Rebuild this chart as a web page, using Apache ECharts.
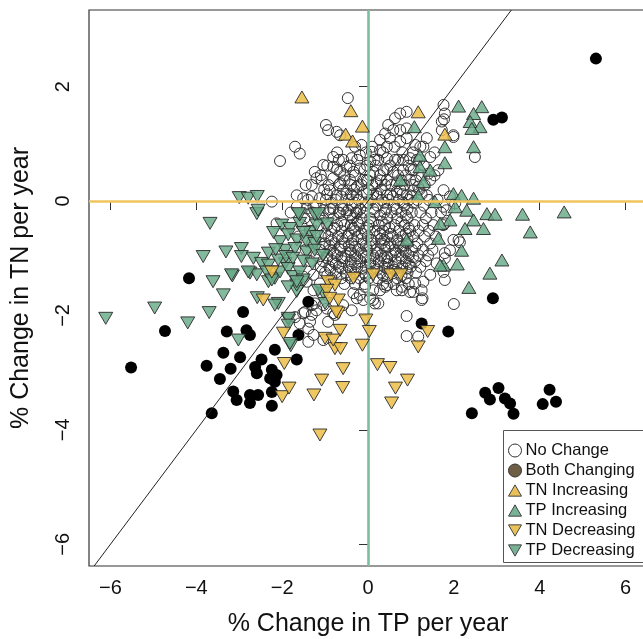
<!DOCTYPE html>
<html>
<head>
<meta charset="utf-8">
<script src="https://cdn.jsdelivr.net/npm/echarts@6/dist/echarts.min.js"></script>
<style>html,body{margin:0;padding:0;background:#fff;}#chart{width:643px;height:639px;}</style>
</head>
<body>
<div id="chart"></div>
<script>
const xTicks = [-6, -4, -2, 0, 2, 4, 6];
const yTicks = [-6, -4, -2, 0, 2];
const xTitle = '% Change in TP per year';
const yTitle = '% Change in TN per year';
const seriesNames = ['No Change', 'Both Changing', 'TN Increasing', 'TP Increasing', 'TN Decreasing', 'TP Decreasing'];

const noChange = [
[-0.47,1.80],[-0.98,1.33],[-0.93,1.24],[-0.73,1.21],[-0.65,1.15],[-1.70,0.95],[-1.59,0.83],[-2.05,0.70],[-0.15,0.98],[-0.81,0.77],[-0.58,0.72],[-0.38,0.75],[-0.19,0.80],[-1.04,0.63],[-1.24,0.51],[-1.20,0.40],[-1.31,0.28],[-1.08,0.37],[-0.81,0.60],[-0.65,0.51],[-0.50,0.60],[-0.34,0.51],[-0.19,0.57],[-0.81,0.40],[-0.65,0.31],[-0.42,0.37],[-0.26,0.25],[-0.11,0.37],[-0.89,0.19],[-0.73,0.10],[-0.50,0.13],[-0.26,0.10],[-0.11,0.16],[-2.24,-0.01],[-1.66,0.10],[-1.51,0.05],[-1.31,0.08],[-1.12,0.05],[-1.66,-0.10],[-1.43,-0.13],[-1.27,-0.10],[-1.04,-0.16],[-0.81,-0.13],[-0.65,-0.21],[-0.46,-0.16],[-0.26,-0.21],
[1.76,1.68],[1.79,1.53],[0.75,1.53],[0.63,1.45],[0.90,1.56],[0.47,1.33],[0.40,1.18],[0.59,1.24],[0.75,1.24],[0.90,1.27],[1.72,1.24],[1.99,1.15],[1.72,1.39],[2.49,0.77],[1.45,0.77],[1.29,0.95],[1.37,1.10],[0.09,0.86],[0.28,0.89],[0.44,0.95],[0.28,1.07],[0.51,1.10],[0.75,1.04],[0.90,1.10],[1.10,0.98],[0.05,0.69],[0.24,0.72],[0.44,0.75],[0.63,0.72],[0.82,0.72],[0.98,0.75],[1.14,0.72],[0.12,0.51],[0.36,0.54],[0.59,0.51],[0.82,0.54],[1.06,0.54],[1.41,0.48],[1.64,0.54],[-0.03,0.37],[0.20,0.31],[0.44,0.37],[0.67,0.31],[0.98,0.37],[1.17,0.25],[1.45,0.37],[-0.03,0.13],[0.20,0.13],[0.44,0.10],[0.67,0.16],[0.90,0.10],[1.06,0.19],[1.37,0.10],[1.76,0.19],[1.91,0.08],[1.76,-0.10],[2.03,-0.04],
[1.77,1.43],[1.99,1.12],[1.83,-0.16],[1.79,-0.39],[1.99,-0.68],[2.11,-0.68],[1.79,-0.91],[1.79,-1.38],[2.00,-1.80],
[2.14,-0.72],[1.91,-0.86],[1.79,-1.00],[1.60,-1.09],[1.76,-1.24],[1.45,-1.29],[1.29,-1.41],[1.10,-1.44],[0.79,-1.56],[1.25,-1.56],[1.06,-1.59],[1.25,-1.73],[0.12,-1.56],[0.44,-1.47],[0.28,-1.56],[0.05,-1.70],[0.16,-1.79],[0.90,-2.01],[0.90,-2.36],[1.17,-2.37],
[-1.35,-2.11],[-1.31,-1.99],[-1.47,-1.94],[-1.31,-1.82],[-0.93,-2.11],[-0.77,-1.99],[-1.39,-2.46],[-0.34,-1.61],[-0.19,-1.64],[-0.07,-1.50],[0.12,-1.73],[0.24,-1.79],[0.40,-1.50],[0.67,-1.56],[0.79,-1.50],[0.98,-1.59],[1.27,-1.70],
[-2.13,-0.39],[-1.51,-1.96],[-1.39,-2.23],[-1.27,-2.34],[-1.04,-2.43],[-1.70,-2.03],[-1.59,-2.14],
[-1.24,-1.79],[-1.04,-1.82],[-1.20,-1.91],[-0.96,-1.88],[-0.81,-1.96],[-0.58,-1.82],[-0.38,-1.91],[-0.26,-1.70],[-0.11,-1.73],
[-1.51,-1.32],[-1.43,-1.41],[-1.27,-1.29],[-1.12,-1.44],[-1.27,-1.56],[-1.08,-1.61],
[-0.30,0.95],[0.10,0.95],[0.62,0.95],[1.22,0.95],
[-0.72,0.85],[-0.05,0.85],[0.35,0.85],[0.80,0.85],[1.05,0.85],[1.55,0.85],
[-0.68,0.72],[-0.25,0.72],[0.15,0.72],[0.70,0.72],[1.20,0.72],
[-0.95,0.62],[-0.42,0.62],[-0.02,0.62],[0.18,0.62],[0.52,0.62],[0.95,0.62],[1.30,0.62],
[-0.72,0.55],[-0.08,0.55],[0.45,0.55],[1.00,0.55],
[-1.10,0.45],[-0.55,0.45],[-0.30,0.45],[0.05,0.45],[0.28,0.45],[0.70,0.45],[0.88,0.45],[1.25,0.45],[1.55,0.45],
[-0.55,0.36],[0.00,0.36],[0.30,0.36],[0.78,0.36],[1.12,0.36],
[-1.45,0.28],[-0.92,0.28],[-0.68,0.28],[-0.40,0.28],[-0.15,0.28],[0.10,0.28],[0.40,0.28],[0.55,0.28],[0.85,0.28],[1.05,0.28],[1.32,0.28],
[-1.02,0.20],[-0.58,0.20],[-0.32,0.20],[0.02,0.20],[0.30,0.20],[0.75,0.20],[1.20,0.20],
[-0.95,0.12],[-0.40,0.12],[0.12,0.12],[0.52,0.12],[0.80,0.12],[1.25,0.12],
[-0.62,0.08],[-0.35,0.08],[0.22,0.08],[0.58,0.08],[1.00,0.08],
[-1.40,0.02],[-0.98,0.02],[-0.75,0.02],[-0.45,0.02],[-0.22,0.02],[0.08,0.02],[0.32,0.02],[0.48,0.02],[0.72,0.02],[0.95,0.02],[1.15,0.02],[1.42,0.02],[1.62,0.02],
[-0.85,-0.03],[-0.30,-0.03],[0.00,-0.03],[0.38,-0.03],[0.82,-0.03],[1.05,-0.03],
[-1.22,-0.08],[-0.60,-0.08],[-0.38,-0.08],[-0.05,-0.08],[0.22,-0.08],[0.60,-0.08],[0.85,-0.08],[1.30,-0.08],
[-0.88,-0.14],[-0.58,-0.14],[-0.18,-0.14],[0.12,-0.14],[0.42,-0.14],[0.66,-0.14],[0.92,-0.14],
[-1.80,-0.20],[-1.30,-0.20],[-0.90,-0.20],[-0.68,-0.20],[-0.50,-0.20],[-0.28,-0.20],[-0.10,-0.20],[0.15,-0.20],[0.38,-0.20],[0.55,-0.20],[0.78,-0.20],[1.02,-0.20],[1.22,-0.20],[1.48,-0.20],[1.70,-0.20],
[-1.15,-0.25],[-0.42,-0.25],[0.28,-0.25],[0.88,-0.25],
[-1.48,-0.30],[-1.05,-0.30],[-0.80,-0.30],[-0.35,-0.30],[-0.15,-0.30],[0.05,-0.30],[0.45,-0.30],[0.68,-0.30],[0.92,-0.30],[1.35,-0.30],
[-0.62,-0.36],[-0.25,-0.36],[0.12,-0.36],[0.32,-0.36],[0.78,-0.36],
[-1.55,-0.42],[-1.15,-0.42],[-0.95,-0.42],[-0.72,-0.42],[-0.55,-0.42],[-0.40,-0.42],[-0.20,-0.42],[0.02,-0.42],[0.25,-0.42],[0.40,-0.42],[0.62,-0.42],[0.85,-0.42],[1.08,-0.42],[1.28,-0.42],[1.52,-0.42],[1.75,-0.42],
[-0.78,-0.47],[-0.35,-0.47],[-0.02,-0.47],[0.50,-0.47],[0.95,-0.47],
[-1.35,-0.52],[-0.85,-0.52],[-0.62,-0.52],[-0.30,-0.52],[-0.08,-0.52],[0.15,-0.52],[0.35,-0.52],[0.72,-0.52],[0.98,-0.52],[1.18,-0.52],[1.42,-0.52],
[-1.00,-0.57],[-0.45,-0.57],[-0.15,-0.57],[0.28,-0.57],[0.52,-0.57],[0.88,-0.57],
[-1.62,-0.62],[-1.10,-0.62],[-0.92,-0.62],[-0.70,-0.62],[-0.48,-0.62],[-0.25,-0.62],[0.00,-0.62],[0.20,-0.62],[0.45,-0.62],[0.58,-0.62],[0.80,-0.62],[1.05,-0.62],[1.32,-0.62],[1.58,-0.62],
[-0.60,-0.66],[-0.15,-0.66],[0.30,-0.66],[0.92,-0.66],
[-0.85,-0.68],[-0.35,-0.68],[0.08,-0.68],[0.38,-0.68],[0.68,-0.68],
[-1.30,-0.74],[-1.00,-0.74],[-0.78,-0.74],[-0.55,-0.74],[-0.38,-0.74],[-0.12,-0.74],[0.10,-0.74],[0.32,-0.74],[0.52,-0.74],[0.70,-0.74],[0.92,-0.74],[1.15,-0.74],[1.45,-0.74],
[-0.90,-0.78],[-0.45,-0.78],[-0.05,-0.78],[0.38,-0.78],[0.82,-0.78],
[-1.05,-0.80],[-0.62,-0.80],[-0.30,-0.80],[0.05,-0.80],[0.48,-0.80],[0.75,-0.80],[1.10,-0.80],
[-1.45,-0.85],[-1.12,-0.85],[-0.88,-0.85],[-0.65,-0.85],[-0.42,-0.85],[-0.22,-0.85],[-0.02,-0.85],[0.20,-0.85],[0.40,-0.85],[0.62,-0.85],[0.82,-0.85],[1.02,-0.85],[1.28,-0.85],[1.50,-0.85],
[-0.80,-0.90],[-0.40,-0.90],[-0.15,-0.90],[0.22,-0.90],[0.65,-0.90],[0.88,-0.90],
[-1.20,-0.95],[-0.95,-0.95],[-0.72,-0.95],[-0.52,-0.95],[-0.30,-0.95],[-0.10,-0.95],[0.12,-0.95],[0.30,-0.95],[0.55,-0.95],[0.75,-0.95],[0.95,-0.95],[1.18,-0.95],[1.40,-0.95],
[-0.62,-0.98],[-0.05,-0.98],[0.45,-0.98],[1.05,-0.98],
[-0.95,-1.00],[-0.55,-1.00],[-0.25,-1.00],[0.15,-1.00],[0.38,-1.00],[0.78,-1.00],
[-1.35,-1.05],[-1.05,-1.05],[-0.82,-1.05],[-0.60,-1.05],[-0.40,-1.05],[-0.18,-1.05],[0.05,-1.05],[0.25,-1.05],[0.45,-1.05],[0.65,-1.05],[0.88,-1.05],[1.10,-1.05],[1.35,-1.05],
[-0.75,-1.10],[-0.30,-1.10],[0.05,-1.10],[0.48,-1.10],[0.95,-1.10],
[-1.10,-1.15],[-0.90,-1.15],[-0.68,-1.15],[-0.45,-1.15],[-0.25,-1.15],[-0.05,-1.15],[0.15,-1.15],[0.38,-1.15],[0.58,-1.15],[0.80,-1.15],[1.00,-1.15],[1.22,-1.15],
[-0.60,-1.18],[-0.15,-1.18],[0.45,-1.18],[0.90,-1.18],
[-0.88,-1.20],[-0.40,-1.20],[0.22,-1.20],[0.62,-1.20],
[-1.00,-1.25],[-0.75,-1.25],[-0.52,-1.25],[-0.30,-1.25],[-0.10,-1.25],[0.10,-1.25],[0.30,-1.25],[0.50,-1.25],[0.70,-1.25],[0.92,-1.25],[1.12,-1.25],
[-0.95,-1.30],[-0.50,-1.30],[-0.05,-1.30],[0.35,-1.30],[0.78,-1.30],
[-0.85,-1.35],[-0.62,-1.35],[-0.40,-1.35],[-0.20,-1.35],[0.02,-1.35],[0.22,-1.35],[0.45,-1.35],[0.68,-1.35],[0.88,-1.35],
[-0.55,-1.45],[-0.30,-1.45],[-0.08,-1.45],[0.35,-1.45],[0.60,-1.45],[0.95,-1.45]
];

const bothChanging = [
[5.31,2.49],[2.92,1.42],[3.12,1.46],[-4.17,-1.35],[-4.73,-2.27],[-5.52,-2.91],[-2.91,-1.94],[-3.29,-2.28],[-2.83,-2.26],[-2.75,-2.34],[-3.37,-2.65],[-2.98,-2.73],[-3.76,-2.88],[-3.20,-2.93],[-3.45,-3.11],[-2.48,-2.77],[-2.63,-2.90],[-2.59,-3.01],[-2.17,-2.60],[-2.24,-2.95],[-2.13,-3.04],[-2.28,-3.10],[-2.17,-3.16],[-1.62,-2.34],[-1.66,-2.77],[-1.39,-1.76],[-3.14,-3.33],[-3.06,-3.48],[-2.75,-3.39],[-2.56,-3.39],[-2.75,-3.53],[-2.24,-3.34],[-2.24,-3.58],[-3.64,-3.71],[1.25,-2.14],[1.87,-2.28],[2.91,-1.70],[2.42,-3.71],[2.73,-3.35],[2.84,-3.47],[3.04,-3.27],[3.19,-3.45],[3.31,-3.54],[3.39,-3.72],[4.07,-3.55],[4.23,-3.30],[4.38,-3.51]
];

const tnIncreasing = [
[-1.54,1.82],[-0.40,1.58],[-0.13,1.31],[-0.52,1.17],[-0.36,1.05],[1.17,1.56],[1.79,1.17]
];

const tpIncreasing = [
[2.11,1.66],[2.65,1.65],[2.46,1.53],[2.38,1.39],[2.61,1.30],[2.42,1.27],[1.08,1.30],[2.46,0.95],[1.79,0.95],[1.79,0.67],[1.21,0.80],[1.21,0.60],[1.45,0.54],[0.75,0.37],[1.29,0.34],[1.17,0.10],[1.99,0.13],[2.18,0.10],[2.46,0.05],[1.56,-0.01],[2.03,-0.10],[2.30,-0.16],[2.77,-0.22],[2.96,-0.23],[3.60,-0.23],[4.57,-0.19],[2.46,-0.33],[2.69,-0.48],[2.26,-0.48],[3.78,-0.54],[1.91,-0.33],[1.68,-0.39],[2.18,-0.86],[3.12,-1.03],[2.08,-1.10],[2.84,-1.26],[1.76,-1.12],[2.35,-1.51],[0.90,-0.68],[1.64,-0.65],[1.68,-1.12]
];

const tnDecreasing = [
[-0.05,-2.08],[0.03,-2.28],[-0.13,-2.52],[-0.65,-2.26],[-1.00,-2.40],[-0.77,-2.58],[-0.64,-2.58],[-0.69,-1.96],[-0.69,-1.73],[-1.97,-2.31],[-1.95,-2.84],[-0.58,-2.93],[-1.08,-3.13],[-0.59,-3.26],[-1.26,-3.39],[-2.00,-3.42],[-1.84,-3.27],[0.22,-2.86],[0.51,-2.91],[0.92,-3.13],[0.64,-3.27],[0.55,-3.53],[-1.12,-4.09],[1.17,-2.55],[1.39,-2.28],[-2.44,-1.73],[-0.93,-1.41],[-0.77,-1.47],[-0.96,-1.56],[-0.34,-1.35],[-0.74,-1.94],[-2.24,-1.24],[0.12,-1.29],[0.53,-1.29],[0.76,-1.29],[-0.89,-1.70],[-0.81,-2.43]
];

const tpDecreasing = [
[-6.11,-2.05],[-4.97,-1.87],[-4.20,-2.13],[-3.70,-1.95],[-3.61,-1.41],[-3.16,-1.31],[-3.37,-1.64],[-2.58,-1.69],[-2.09,-1.79],[-3.02,-2.43],[-1.85,-2.08],[-1.80,-2.53],[-2.75,-1.26],[-2.59,-1.29],[-2.32,-1.41],[-2.17,-1.35],[-1.04,-1.61],[-1.66,-1.58],
[-3.68,-0.39],[-2.59,-0.22],[-3.84,-0.97],[-3.31,-0.89],[-2.95,-0.83],[-2.95,-0.97],[-3.18,-1.29],
[-2.67,-1.00],[-2.48,-1.09],[-2.32,-0.91],[-2.32,-1.12],[-2.79,-1.24],[-2.36,-1.24],[-2.24,-1.38],[-2.05,-1.24],[-1.93,-1.09],[-1.86,-1.18],[-1.74,-1.32],[-1.66,-1.47],[-1.59,-1.24],[-1.51,-1.38],
[-2.01,-0.42],[-1.82,-0.48],[-1.59,-0.39],[-1.35,-0.54],[-1.20,-0.42],[-1.59,-0.24],[-1.24,-0.24],
[-2.05,-0.71],[-1.86,-0.59],[-1.66,-0.68],[-1.43,-0.71],[-1.24,-0.74],[-1.20,-0.62],
[-1.93,-0.86],[-1.70,-0.83],[-1.43,-0.89],[-1.24,-0.86],[-2.09,-1.03],[-1.91,-0.97],
[-1.86,-1.50],[-1.66,-1.41],[-1.00,-1.79],[-1.86,-2.05],[-1.86,-2.17],[-1.82,-2.49],[-2.17,-1.82],[-1.16,-1.56],
[-3.00,0.06],[-2.79,0.05],[-2.58,0.08],[-2.56,-0.16],[-1.62,-0.22],[-1.16,-0.22],
[-2.20,-0.55],[-1.75,-1.00],[-1.50,-1.05],[-1.30,-1.10],[-2.15,-0.85],[-1.50,-0.55],[-1.05,-0.95],[-0.95,-0.40]
];

const diagLine = [[-6.38,-6.38],[3.34,3.34]];

const FONT = '"Liberation Sans", Arial, Helvetica, sans-serif';
const minusFmt = v => String(v).replace('-', '\u2212');
const GREEN = 'rgba(104,170,136,0.82)';
const ORANGE = 'rgba(236,190,72,0.85)';
const EDGE = '#2a2a2a';
const upTri = 'path://M5,0L10,8.7L0,8.7Z';
const downTri = 'path://M0,0L10,0L5,8.7Z';

const chart = echarts.init(document.getElementById('chart'), null, {renderer: 'canvas'});
chart.setOption({
  animation: false,
  backgroundColor: '#fff',
  textStyle: {fontFamily: FONT},
  grid: {left: 89, top: 10, bottom: 73, right: -4, show: true, borderColor: '#333', borderWidth: 1.2,
         backgroundColor: 'transparent', outerBoundsMode: 'none', containLabel: false},
  xAxis: {
    type: 'value', min: -6.5, max: 6.5,
    name: xTitle, nameLocation: 'middle', nameGap: 46,
    nameTextStyle: {fontSize: 25, color: '#111', fontFamily: FONT},
    axisLine: {show: false},
    splitLine: {show: false},
    axisTick: {show: true, length: 9, lineStyle: {color: '#333', width: 1}, customValues: xTicks},
    axisLabel: {fontSize: 20, color: '#111', margin: 12, customValues: xTicks, formatter: minusFmt, fontFamily: FONT}
  },
  yAxis: {
    type: 'value', min: -6.38, max: 3.34,
    name: yTitle, nameLocation: 'middle', nameGap: 55, nameRotate: 90,
    nameTextStyle: {fontSize: 25, color: '#111', fontFamily: FONT},
    axisLine: {show: false},
    splitLine: {show: false},
    axisTick: {show: true, length: 9, lineStyle: {color: '#333', width: 1}, customValues: yTicks},
    axisLabel: {fontSize: 20, color: '#111', margin: 16, rotate: 90, customValues: yTicks, formatter: minusFmt, fontFamily: FONT}
  },
  graphic: [
    {type: 'rect', left: 503, top: 430, z: 90, silent: true,
     shape: {x: 0, y: 0, width: 170, height: 132},
     style: {fill: '#fff', stroke: '#555', lineWidth: 1}}
  ],
  legend: {
    orient: 'vertical', left: 503, top: 430, z: 100,
    padding: [12, 8, 8, 5],
    itemGap: 3, itemWidth: 13, itemHeight: 13,
    borderWidth: 0, backgroundColor: 'transparent',
    textStyle: {fontSize: 16.5, color: '#111', fontFamily: FONT, padding: [0, 0, 0, -1]},
    selectedMode: false,
    data: [
      {name: seriesNames[0], icon: 'circle', itemStyle: {color: 'transparent', borderColor: '#333', borderWidth: 1}},
      {name: seriesNames[1], icon: 'circle', itemStyle: {color: '#6e5e44', borderColor: '#333', borderWidth: 1}},
      {name: seriesNames[2], icon: upTri, itemStyle: {color: '#e9c158', borderColor: '#444', borderWidth: 1}},
      {name: seriesNames[3], icon: upTri, itemStyle: {color: '#78b295', borderColor: '#444', borderWidth: 1}},
      {name: seriesNames[4], icon: downTri, itemStyle: {color: '#e9c158', borderColor: '#444', borderWidth: 1}},
      {name: seriesNames[5], icon: downTri, itemStyle: {color: '#78b295', borderColor: '#444', borderWidth: 1}}
    ]
  },
  series: [
    {name: seriesNames[0], type: 'scatter', data: noChange, symbol: 'circle', symbolSize: 11,
     itemStyle: {color: 'transparent', borderColor: '#333', borderWidth: 1, opacity: 1}, z: 2},
    {name: seriesNames[1], type: 'scatter', data: bothChanging, symbol: 'circle', symbolSize: 12,
     itemStyle: {color: '#000', borderColor: '#000', borderWidth: 0, opacity: 1}, z: 3},
    {name: seriesNames[5], type: 'scatter', data: tpDecreasing, symbol: downTri, symbolSize: [14, 12],
     itemStyle: {color: GREEN, borderColor: EDGE, borderWidth: 0.9, opacity: 1}, z: 4},
    {name: seriesNames[3], type: 'scatter', data: tpIncreasing, symbol: upTri, symbolSize: [14, 12],
     itemStyle: {color: GREEN, borderColor: EDGE, borderWidth: 0.9, opacity: 1}, z: 4},
    {name: seriesNames[4], type: 'scatter', data: tnDecreasing, symbol: downTri, symbolSize: [14, 12],
     itemStyle: {color: ORANGE, borderColor: EDGE, borderWidth: 0.9, opacity: 1}, z: 5},
    {name: seriesNames[2], type: 'scatter', data: tnIncreasing, symbol: upTri, symbolSize: [14, 12],
     itemStyle: {color: ORANGE, borderColor: EDGE, borderWidth: 0.9, opacity: 1}, z: 5},
    {name: 'refs', type: 'line', data: diagLine, showSymbol: false, silent: true, z: 8,
     lineStyle: {color: '#222', width: 1},
     markLine: {silent: true, symbol: 'none', label: {show: false},
       data: [
         {xAxis: 0, lineStyle: {color: '#7cbea0', width: 2.6, type: 'solid'}},
         {yAxis: 0, lineStyle: {color: '#f0c55e', width: 2.6, type: 'solid'}}
       ]}}
  ]
});
</script>
</body>
</html>
